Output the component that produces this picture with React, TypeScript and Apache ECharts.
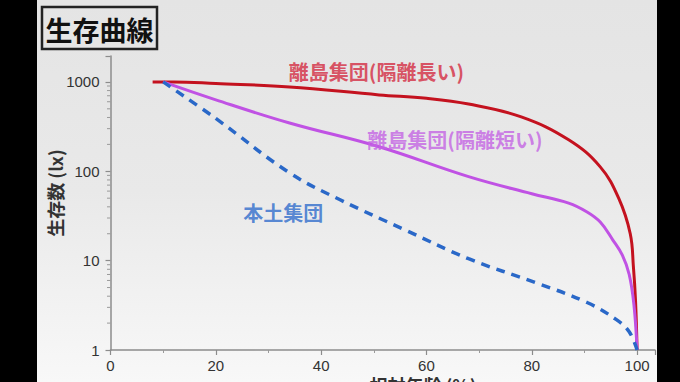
import React, { useEffect, useRef } from "react";
import * as echarts from "echarts";

// ---- data ----
const redX = [8, 12, 20, 34, 51, 60, 68, 78, 87, 93, 96.5, 98.7, 99.3, 99.7, 100];
const redY = [1000, 1000, 960, 880, 716, 655, 565, 406, 225, 112, 50, 20, 8.5, 3.6, 1];

const purpleX = [10, 20, 34, 51, 68, 80, 87, 90.5, 93, 95.4, 97.2, 98.5, 99.4, 100];
const purpleY = [1000, 630, 347, 188, 87, 56, 44, 35, 27, 17, 11.5, 7, 3.2, 1];

const blueX = [10, 20, 34, 43.6, 56, 68, 81, 90.5, 96, 98.5, 100];
const blueY = [1000, 390, 96, 48, 22, 10.5, 5.6, 3.4, 2.2, 1.6, 1];

const seriesNames = ["離島集団(隔離長い)", "離島集団(隔離短い)", "本土集団"];
const labelX = [50.5, 65.4, 32.8];
const labelY = [1297, 224, 35];

const minorTickValues = [2, 3, 4, 5, 6, 7, 8, 9, 20, 30, 40, 50, 60, 70, 80, 90, 200, 300, 400, 500, 600, 700, 800, 900];

const titleText = "生存曲線";
const yAxisTitle = "生存数 (lx)";
const xAxisTitle = "相対年齢 (%)";

const zip = (xs: number[], ys: number[]) => xs.map((x, i) => [x, ys[i]]);

export default function App() {
  const ref = useRef<HTMLDivElement>(null);

  useEffect(() => {
    if (!ref.current) return;
    const chart = echarts.init(ref.current, undefined, { renderer: "svg" });
    const colors = ["#c4121f", "#c052e4", "#2a68c8"];
    const labelColors = ["#d42a40", "#c463e4", "#2f6ccc"];
    const isPow10 = (v: number) => Math.abs(Math.log10(v) - Math.round(Math.log10(v))) < 1e-6;

    chart.setOption({
      animation: false,
      backgroundColor: "transparent",
      grid: { left: 110.5, right: 25, top: 56, bottom: 32, containLabel: false },
      xAxis: {
        type: "value",
        min: 0,
        max: 103.4,
        interval: 20,
        axisLine: { show: true, lineStyle: { color: "#8c8c8c", width: 1.5 } },
        axisTick: { show: true, length: 5, lineStyle: { color: "#8c8c8c", width: 1.2 } },
        minorTick: { show: true, splitNumber: 2, length: 3, lineStyle: { color: "#9a9a9a" } },
        splitLine: { show: false },
        axisLabel: {
          margin: 8,
          color: "#333",
          fontSize: 15,
          fontFamily: "Liberation Sans, Arial, sans-serif",
          formatter: (v: number) => (Math.abs(v % 20) < 1e-6 && v <= 100 ? String(v) : ""),
        },
      },
      yAxis: {
        type: "log",
        logBase: 10,
        min: 1,
        max: 1950,
        axisLine: { show: true, lineStyle: { color: "#8c8c8c", width: 1.5 } },
        axisTick: { show: true, length: 5, lineStyle: { color: "#8c8c8c", width: 1.2 } },
        splitLine: { show: false },
        axisLabel: {
          margin: 11,
          color: "#333",
          fontSize: 15,
          fontFamily: "Liberation Sans, Arial, sans-serif",
          formatter: (v: number) => (isPow10(v) ? String(Math.round(v)) : ""),
        },
      },
      graphic: [
        {
          type: "rect",
          shape: { x: 42, y: 7, width: 115, height: 42 },
          style: { fill: "transparent", stroke: "#222", lineWidth: 2.5 },
        },
        {
          type: "text",
          x: 99.5,
          y: 29,
          style: {
            text: titleText,
            align: "center",
            verticalAlign: "middle",
            fill: "#111",
            font: "bold 27px 'Noto Sans CJK JP', sans-serif",
          },
        },
        {
          type: "text",
          x: 55,
          y: 193,
          rotation: Math.PI / 2,
          style: {
            text: yAxisTitle,
            align: "center",
            verticalAlign: "middle",
            fill: "#333",
            font: "bold 18px 'Noto Sans CJK JP', sans-serif",
          },
        },
        {
          type: "text",
          x: 423,
          y: 376,
          style: {
            text: xAxisTitle,
            align: "center",
            verticalAlign: "top",
            fill: "#333",
            font: "bold 18px 'Noto Sans CJK JP', sans-serif",
          },
        },
      ],
      series: [
        {
          type: "line",
          name: seriesNames[0],
          data: zip(redX, redY),
          smooth: 0.4,
          showSymbol: false,
          lineStyle: { color: colors[0], width: 3 },
          z: 3,
        },
        {
          type: "line",
          name: seriesNames[1],
          data: zip(purpleX, purpleY),
          smooth: 0.4,
          showSymbol: false,
          lineStyle: { color: colors[1], width: 3 },
          z: 4,
        },
        {
          type: "line",
          name: seriesNames[2],
          data: zip(blueX, blueY),
          smooth: 0.4,
          showSymbol: false,
          lineStyle: { color: colors[2], width: 3.5, type: [9, 7] },
          z: 5,
        },
        {
          type: "scatter",
          data: seriesNames.map((n, i) => ({
            value: [labelX[i], labelY[i]],
            name: n,
            label: {
              show: true,
              position: "inside",
              formatter: n,
              color: labelColors[i],
              fontSize: 20,
              fontWeight: "bold",
              fontFamily: "'Noto Sans CJK JP', sans-serif",
            },
          })),
          symbolSize: 1,
          itemStyle: { color: "transparent" },
          silent: true,
          z: 6,
        },
        {
          type: "custom",
          coordinateSystem: "cartesian2d",
          clip: false,
          silent: true,
          data: minorTickValues.map((v) => [0, v]),
          encode: { x: 0, y: 1 },
          renderItem: (_params: any, api: any) => {
            const p = api.coord([api.value(0), api.value(1)]);
            return {
              type: "line",
              shape: { x1: p[0] - 3.5, y1: p[1], x2: p[0], y2: p[1] },
              style: { stroke: "#9a9a9a", lineWidth: 1 },
            };
          },
        },
      ],
    });
    return () => chart.dispose();
  }, []);

  return (
    <div style={{ position: "fixed", left: 0, top: 0, width: 680, height: 382, background: "#000", overflow: "hidden" }}>
      <div
        style={{
          position: "absolute",
          left: 37,
          top: 0,
          width: 620,
          height: 382,
          background: "linear-gradient(to bottom, #e4e4e4 0%, #e9e9e9 50%, #f8f8f8 100%)",
        }}
      />
      <div ref={ref} style={{ position: "absolute", left: 0, top: 0, width: 680, height: 382 }} />
    </div>
  );
}
